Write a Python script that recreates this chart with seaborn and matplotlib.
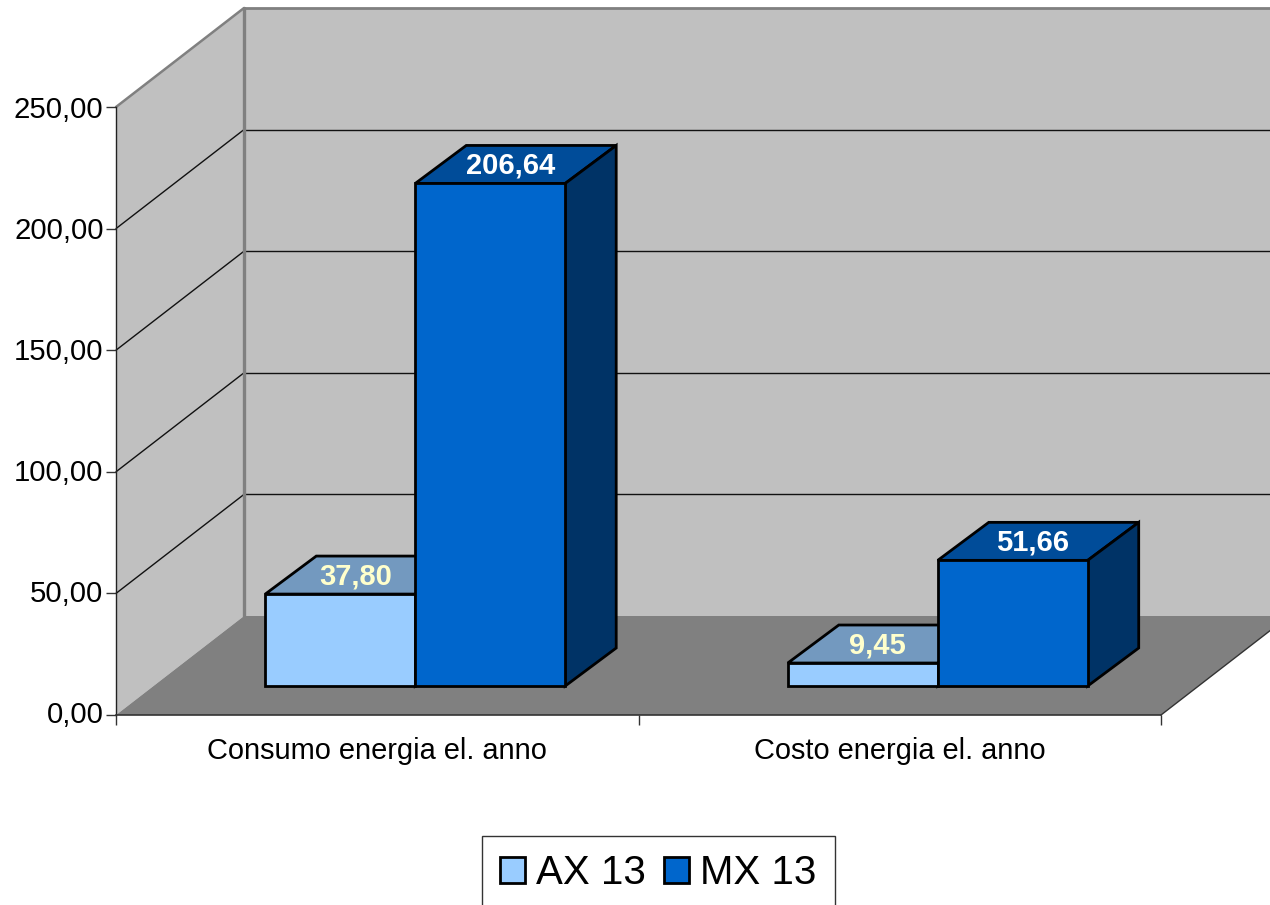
import pandas as pd
import seaborn as sns
import matplotlib.pyplot as plt
from matplotlib.patches import Polygon
from matplotlib.transforms import Affine2D, IdentityTransform

categories = ["Consumo energia el. anno", "Costo energia el. anno"]
ax13_values = [37.80, 9.45]
mx13_values = [206.64, 51.66]
series_names = ["AX 13", "MX 13"]
y_ticks = [0, 50, 100, 150, 200, 250]
y_tick_labels = ["0,00", "50,00", "100,00", "150,00", "200,00", "250,00"]
ax13_labels = ["37,80", "9,45"]
mx13_labels = ["206,64", "51,66"]

front_colors = ["#99CCFF", "#0066CC"]
top_colors = ["#7399BF", "#004C99"]
side_colors = ["#4D6680", "#003366"]
label_colors = ["#FFFFCC", "white"]

sns.set_theme(style="white")
plt.rcParams['font.family'] = ['Liberation Sans', 'DejaVu Sans']

df = pd.DataFrame({
    'cat': categories * 2,
    'serie': [series_names[0]] * 2 + [series_names[1]] * 2,
    'val': ax13_values + mx13_values,
})

W, H = 1270, 905
fig = plt.figure(figsize=(W / 100, H / 100), dpi=100)
ax = fig.add_axes([116 / W, (H - 715) / H, 1045 / W, 608 / H])
ax.patch.set_alpha(0)

sns.barplot(data=df, x='cat', y='val', hue='serie', order=categories, hue_order=series_names,
            palette=front_colors, saturation=1, width=0.574, gap=0, edgecolor='black',
            linewidth=2, legend=False, ax=ax)

ax.set_xlim(-0.5, 1.5)
ax.set_ylim(0, 250)
ax.set_xlabel("")
ax.set_ylabel("")

# fake 3D: everything below is shifted in pixels along the depth direction
DEPTH = (128, 99)
BAR_SHIFT = (38, 29)
BAR_DEPTH = (51, 38)


def px(x, v, shift=(0, 0)):
    p = ax.transData.transform((x, v))
    return (p[0] + shift[0], p[1] + shift[1])


def add_face(pts, color, z, edge='none', lw=0):
    ax.add_patch(Polygon(pts, closed=True, facecolor=color, edgecolor=edge, linewidth=lw,
                         transform=IdentityTransform(), clip_on=False, zorder=z, joinstyle='miter'))


x0, x1 = ax.get_xlim()
wall_c = "#C0C0C0"
wall_edge = "#808080"
add_face([px(x0, 0), px(x0, 250), px(x0, 250, DEPTH), px(x0, 0, DEPTH)], wall_c, 0.1)
add_face([px(x0, 0, DEPTH), px(x0, 250, DEPTH), px(x1, 250, DEPTH), px(x1, 0, DEPTH)], wall_c, 0.1)
add_face([px(x0, 0), px(x1, 0), px(x1, 0, DEPTH), px(x0, 0, DEPTH)], "#808080", 0.2)

back = ax.transData + Affine2D().translate(*DEPTH)
for v in y_ticks[1:-1]:
    ax.plot([x0, x1], [v, v], color='#111111', lw=1, transform=back, clip_on=False, zorder=0.3)
    p, q = px(x0, v), px(x0, v, DEPTH)
    ax.plot([p[0], q[0]], [p[1], q[1]], color='#111111', lw=1,
            transform=IdentityTransform(), clip_on=False, zorder=0.3)

# grey outline of the walls
ax.plot([x0, x1], [250, 250], color=wall_edge, lw=2, transform=back, clip_on=False, zorder=0.4)
ax.plot([x0, x0], [0, 250], color=wall_edge, lw=2.4, transform=back, clip_on=False, zorder=0.4)
p, q = px(x0, 250), px(x0, 250, DEPTH)
ax.plot([p[0], q[0]], [p[1], q[1]], color=wall_edge, lw=1.8,
        transform=IdentityTransform(), clip_on=False, zorder=0.4)
p, q = px(x1, 0), px(x1, 0, DEPTH)
ax.plot([p[0], q[0]], [p[1], q[1]], color='#333333', lw=1,
        transform=IdentityTransform(), clip_on=False, zorder=0.4)

shift = Affine2D().translate(*BAR_SHIFT)
all_labels = [ax13_labels, mx13_labels]
label_dx = [15, 20]
for i, cont in enumerate(ax.containers):
    z = 3 + i
    for bar, txt in zip(cont, all_labels[i]):
        bx, bw, bh = bar.get_x(), bar.get_width(), bar.get_height()
        bar.set_transform(ax.transData + shift)
        bar.set_clip_on(False)
        bar.set_zorder(z + 0.5)
        a = px(bx, bh, BAR_SHIFT)
        b = px(bx + bw, bh, BAR_SHIFT)
        c = px(bx + bw, 0, BAR_SHIFT)
        off = lambda s: (s[0] + BAR_DEPTH[0], s[1] + BAR_DEPTH[1])
        add_face([a, b, off(b), off(a)], top_colors[i], z, 'black', 2)
        add_face([b, c, off(c), off(b)], side_colors[i], z, 'black', 2)
        ax.annotate(txt, xy=((a[0] + b[0]) / 2 + label_dx[i], a[1] + 18), xycoords='figure pixels',
                    ha='center', va='center', fontsize=21, fontweight='bold',
                    color=label_colors[i], zorder=z + 0.6, annotation_clip=False)

ax.set_yticks(y_ticks)
ax.set_yticklabels(y_tick_labels)
ax.set_xticks([0, 1])
ax.set_xticklabels(categories)
ax.set_xticks([-0.5, 0.5, 1.5], minor=True)
ax.tick_params(axis='x', which='major', length=0, pad=16, labelsize=20.9, colors='black')
ax.tick_params(axis='x', which='minor', length=7, width=1, color='#333333', bottom=True)
ax.tick_params(axis='y', length=7, width=1, pad=2, labelsize=21.2, color='#333333', left=True,
               labelcolor='black')

# the value labels sit a little above their ticks, more so towards the bottom
for k, lab in enumerate(ax.get_yticklabels()):
    lab.set_transform(lab.get_transform() + Affine2D().translate(0, 3 - 0.6 * k))

sns.despine(ax=ax, top=True, right=True)
ax.spines['left'].set_color('#222222')
ax.spines['left'].set_linewidth(1)
ax.spines['bottom'].set_color('#333333')
ax.spines['bottom'].set_linewidth(1.2)

handles = [ax.containers[0][0], ax.containers[1][0]]
leg = fig.legend(handles, series_names, loc='upper left', bbox_to_anchor=(481.5 / W, (H - 836) / H),
                 ncol=2, fontsize=29, frameon=True, fancybox=False, edgecolor='#333333',
                 facecolor='white', framealpha=1, borderaxespad=0, borderpad=0.45,
                 handlelength=0.62, handleheight=0.62, handletextpad=0.28, columnspacing=0.45,
                 labelcolor='black')
leg.get_frame().set_linewidth(1)

fig.savefig("out.png", dpi=100, facecolor='white')
